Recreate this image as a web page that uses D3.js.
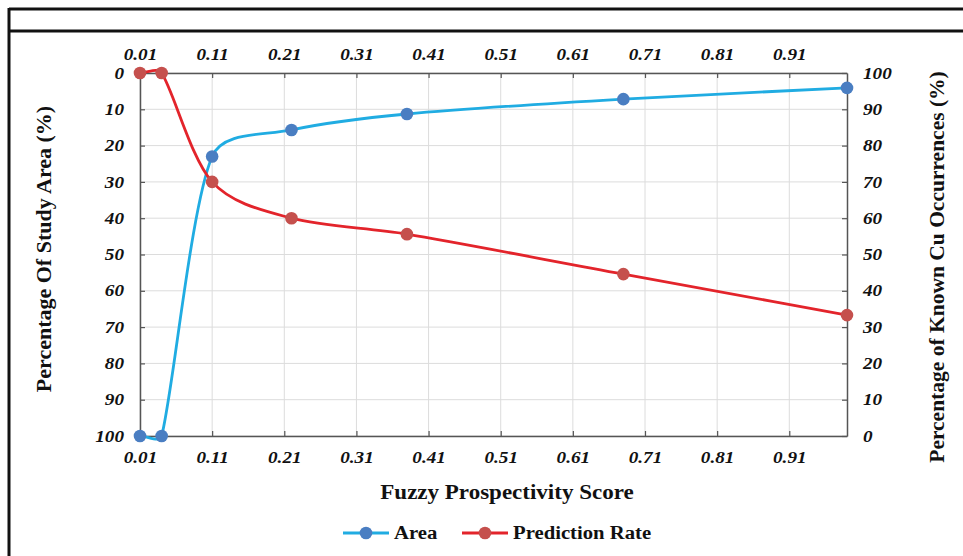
<!DOCTYPE html>
<html>
<head>
<meta charset="utf-8">
<script src="https://cdn.jsdelivr.net/npm/d3@7"></script>
<style>
  html, body { margin: 0; padding: 0; background: #fff; }
  svg { display: block; }
</style>
</head>
<body>
<svg id="chart" width="963" height="556"></svg>
<script>
// Fuzzy prospectivity score (x) for each cut-off
const scores = [0.01, 0.04, 0.11, 0.22, 0.38, 0.68, 0.99];
// Percentage of study area (left axis, inverted)
const areaValues = [100, 100, 23, 15.7, 11.3, 7.2, 4.1];
// Percentage of known Cu occurrences (right axis)
const predictionValues = [100, 100, 70, 60, 55.6, 44.6, 33.3];
const xTicks = [0.01, 0.11, 0.21, 0.31, 0.41, 0.51, 0.61, 0.71, 0.81, 0.91];
const yTicks = [0, 10, 20, 30, 40, 50, 60, 70, 80, 90, 100];
const seriesNames = ["Area", "Prediction Rate"];

const svg = d3.select("#chart");
const plotLeft = 140, plotRight = 847, plotTop = 73, plotBottom = 436;

const x = d3.scaleLinear().domain([0.01, 0.99]).range([plotLeft, plotRight]);
const yLeft = d3.scaleLinear().domain([0, 100]).range([plotTop, plotBottom]);
const yRight = d3.scaleLinear().domain([0, 100]).range([plotBottom, plotTop]);

// Widen horizontal text a little (the type is set wide)
function widen(sel, factor) {
  sel.each(function () {
    const w = this.getComputedTextLength();
    d3.select(this).attr("textLength", w * factor).attr("lengthAdjust", "spacingAndGlyphs");
  });
}

// Smoothed line: Bezier segments whose control arms follow the neighbour
// direction but never reach past a third of the adjacent segment.
function smoothCurve(context) {
  let pts = [];
  return {
    lineStart() { pts = []; },
    point(px, py) { pts.push([px, py]); },
    lineEnd() {
      const n = pts.length;
      if (!n) return;
      context.moveTo(pts[0][0], pts[0][1]);
      const dist = (a, b) => Math.hypot(b[0] - a[0], b[1] - a[1]);
      const tangent = i => {
        const a = pts[Math.max(0, i - 1)], b = pts[Math.min(n - 1, i + 1)];
        const dx = b[0] - a[0], dy = b[1] - a[1], len = Math.hypot(dx, dy) || 1;
        const scale = (i === 0 || i === n - 1) ? len / 3 : len / 6;
        return [dx / len, dy / len, scale];
      };
      for (let i = 0; i < n - 1; i++) {
        const p0 = pts[i], p1 = pts[i + 1], seg = dist(p0, p1);
        const t0 = tangent(i), t1 = tangent(i + 1);
        const a0 = Math.min(t0[2], seg / 3), a1 = Math.min(t1[2], seg / 3);
        context.bezierCurveTo(
          p0[0] + t0[0] * a0, p0[1] + t0[1] * a0,
          p1[0] - t1[0] * a1, p1[1] - t1[1] * a1,
          p1[0], p1[1]);
      }
    }
  };
}

// Frame around the figure
svg.append("line").attr("x1", 9).attr("x2", 963).attr("y1", 9).attr("y2", 9)
  .attr("stroke", "#111").attr("stroke-width", 3);
svg.append("line").attr("x1", 9).attr("x2", 963).attr("y1", 31).attr("y2", 31)
  .attr("stroke", "#111").attr("stroke-width", 3);
svg.append("line").attr("x1", 9).attr("x2", 9).attr("y1", 8).attr("y2", 556)
  .attr("stroke", "#111").attr("stroke-width", 3);

// Grid
const grid = svg.append("g").attr("stroke", "#dcdcdc").attr("stroke-width", 1);
xTicks.forEach(t => grid.append("line").attr("x1", x(t)).attr("x2", x(t)).attr("y1", plotTop).attr("y2", plotBottom));
yTicks.forEach(t => grid.append("line").attr("x1", plotLeft).attr("x2", plotRight).attr("y1", yLeft(t)).attr("y2", yLeft(t)));

const tickFont = "bold italic 16px 'Liberation Serif', 'Times New Roman', serif";
const fmtX = d3.format(".2f");

function styleAxis(g) {
  g.select(".domain").attr("stroke", "#555").attr("stroke-width", 1.5);
  g.selectAll(".tick line").attr("stroke", "#555").attr("stroke-width", 1.2);
  g.selectAll(".tick text").attr("fill", "#111").style("font", tickFont);
  widen(g.selectAll(".tick text"), 1.2);
}

// Top axis (labels above, ticks pointing inward)
svg.append("g").attr("transform", `translate(0,${plotTop})`)
  .call(d3.axisTop(x).tickValues(xTicks).tickFormat(fmtX).tickSizeInner(-5).tickSizeOuter(0).tickPadding(13))
  .call(styleAxis);
// Bottom axis
svg.append("g").attr("transform", `translate(0,${plotBottom})`)
  .call(d3.axisBottom(x).tickValues(xTicks).tickFormat(fmtX).tickSizeInner(-5).tickSizeOuter(0).tickPadding(16))
  .call(styleAxis);
// Left axis (inverted)
svg.append("g").attr("transform", `translate(${plotLeft},0)`)
  .call(d3.axisLeft(yLeft).tickValues(yTicks).tickSizeInner(-5).tickSizeOuter(0).tickPadding(16))
  .call(styleAxis);
// Right axis
svg.append("g").attr("transform", `translate(${plotRight},0)`)
  .call(d3.axisRight(yRight).tickValues(yTicks).tickSizeInner(-5).tickSizeOuter(0).tickPadding(16))
  .call(styleAxis);

// Series
const areaColor = "#20ace2", areaMarker = "#4a7ec2";
const predColor = "#e3242b", predMarker = "#c5504d";

const areaPts = scores.map((s, i) => [x(s), yLeft(areaValues[i])]);
const predPts = scores.map((s, i) => [x(s), yRight(predictionValues[i])]);
const line = d3.line().curve(smoothCurve);

svg.append("path").attr("d", line(areaPts)).attr("fill", "none")
  .attr("stroke", areaColor).attr("stroke-width", 2.8);
svg.append("path").attr("d", line(predPts)).attr("fill", "none")
  .attr("stroke", predColor).attr("stroke-width", 2.8);

svg.append("g").selectAll("circle").data(areaPts).join("circle")
  .attr("cx", d => d[0]).attr("cy", d => d[1]).attr("r", 6.3).attr("fill", areaMarker);
svg.append("g").selectAll("circle").data(predPts).join("circle")
  .attr("cx", d => d[0]).attr("cy", d => d[1]).attr("r", 6.3).attr("fill", predMarker);

// Axis titles
svg.append("text").attr("transform", "translate(51,249) rotate(-90)")
  .attr("text-anchor", "middle").style("font", "bold 22px 'Liberation Serif', 'Times New Roman', serif").attr("fill", "#111")
  .text("Percentage Of Study Area (%)");
svg.append("text").attr("transform", "translate(944,267) rotate(-90)")
  .attr("text-anchor", "middle").style("font", "bold 21.5px 'Liberation Serif', 'Times New Roman', serif").attr("fill", "#111")
  .text("Percentage of Known Cu Occurrences (%)");
svg.append("text").attr("x", 507).attr("y", 499)
  .attr("text-anchor", "middle").style("font", "bold 20px 'Liberation Serif', 'Times New Roman', serif").attr("fill", "#111")
  .text("Fuzzy Prospectivity Score")
  .call(widen, 1.15);

// Legend
const legendFont = "bold 18px 'Liberation Serif', 'Times New Roman', serif";
const legend = [
  { name: seriesNames[0], color: areaColor, marker: areaMarker, x: 343 },
  { name: seriesNames[1], color: predColor, marker: predMarker, x: 462 }
];
legend.forEach(l => {
  const g = svg.append("g").attr("transform", `translate(${l.x},533)`);
  g.append("line").attr("x1", 0).attr("x2", 46).attr("y1", 0).attr("y2", 0)
    .attr("stroke", l.color).attr("stroke-width", 2.8);
  g.append("circle").attr("cx", 23).attr("cy", 0).attr("r", 6.3).attr("fill", l.marker);
  g.append("text").attr("x", 51).attr("y", 6).style("font", legendFont).attr("fill", "#111").text(l.name)
    .call(widen, 1.15);
});
</script>
</body>
</html>
